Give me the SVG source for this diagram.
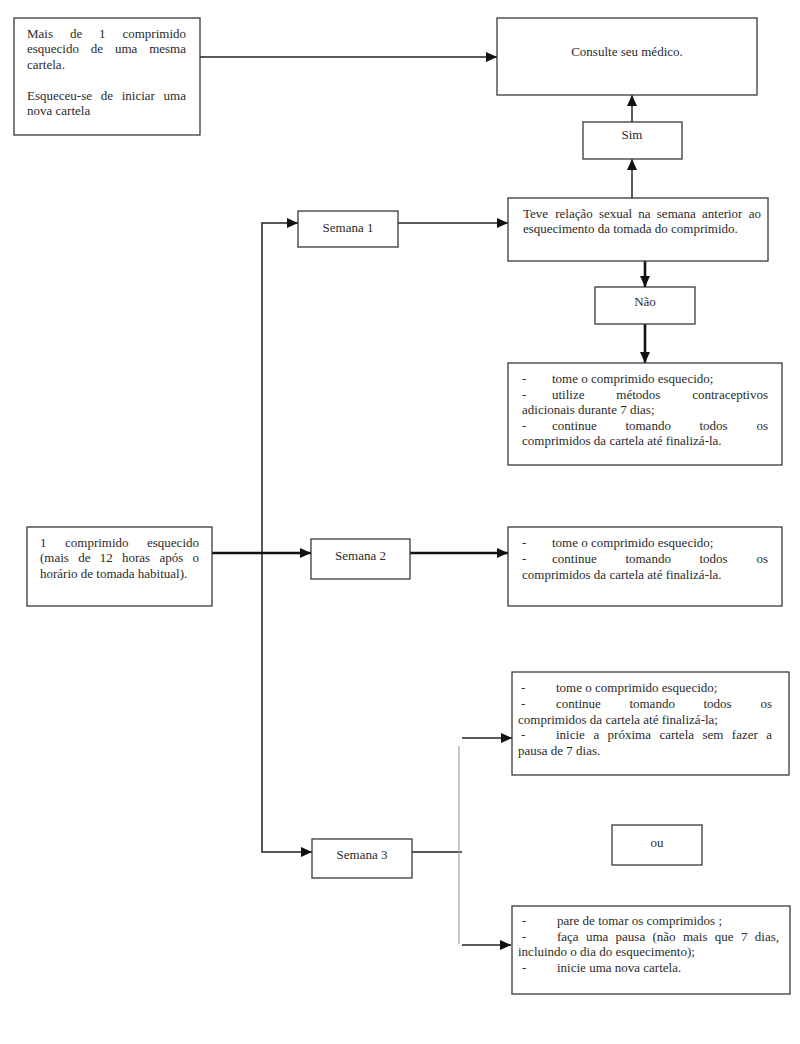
<svg xmlns="http://www.w3.org/2000/svg" width="800" height="1044" viewBox="0 0 800 1044">
<style>
  .box{fill:#fff;stroke:#3a3a3a;stroke-width:1.3}
  text{font-family:"Liberation Serif","Times New Roman",serif;font-size:13px;fill:#2a2a2a}
  .c{text-anchor:middle}
  .e{text-anchor:end}
  .ln{fill:none;stroke:#222;stroke-width:1.5}
  .th{fill:none;stroke:#111;stroke-width:2.6}
  .lt{fill:none;stroke:#9a9a9a;stroke-width:1.1}
</style>
<defs>
  <marker id="ah" markerUnits="userSpaceOnUse" markerWidth="12" markerHeight="10" refX="11" refY="5" orient="auto">
    <path d="M0,0 L11,5 L0,10 Z" fill="#111"/>
  </marker>
</defs>
<rect width="800" height="1044" fill="#fff"/>

<g id="connectors">
  <path class="ln" d="M200,57 H497" marker-end="url(#ah)"/>
  <path class="ln" d="M632,122 V95" marker-end="url(#ah)"/>
  <path class="ln" d="M632,198 V159" marker-end="url(#ah)"/>
  <path class="ln" d="M398,223 H508" marker-end="url(#ah)"/>
  <path class="th" d="M645,261 V287" marker-end="url(#ah)"/>
  <path class="th" d="M645,324 V363" marker-end="url(#ah)"/>
  <path class="ln" d="M262,540 V223 H298" marker-end="url(#ah)"/>
  <path class="ln" d="M262,540 V852 H312" marker-end="url(#ah)"/>
  <path class="th" d="M212,553 H311" marker-end="url(#ah)"/>
  <path class="th" d="M410,553 H508" marker-end="url(#ah)"/>
  <path class="ln" d="M412,852 H462"/>
  <path class="lt" d="M459,746 V944"/>
  <path class="ln" d="M462,738 H512" marker-end="url(#ah)"/>
  <path class="ln" d="M462,945 H511" marker-end="url(#ah)"/>
</g>

<g id="node-mais">
  <rect class="box" x="14" y="18" width="186" height="117"/>
  <text x="27" y="38">Mais</text><text x="69.9" y="38">de</text><text x="99.1" y="38">1</text><text class="e" x="186" y="38">comprimido</text>
  <text x="27" y="53">esquecido</text><text x="90.8" y="53">de</text><text x="114.9" y="53">uma</text><text class="e" x="186" y="53">mesma</text>
  <text x="27" y="69">cartela.</text>
  <text x="27" y="100">Esqueceu-se</text><text x="100.7" y="100">de</text><text x="121.7" y="100">iniciar</text><text class="e" x="186" y="100">uma</text>
  <text x="27" y="115">nova cartela</text>
</g>

<g id="node-consulte">
  <rect class="box" x="497" y="18" width="260" height="77"/>
  <text class="c" x="627" y="56">Consulte seu médico.</text>
</g>

<g id="node-sim">
  <rect class="box" x="583" y="122" width="99" height="37"/>
  <text class="c" x="632" y="139">Sim</text>
</g>

<g id="node-semana1">
  <rect class="box" x="298" y="211" width="100" height="36"/>
  <text class="c" x="348" y="232">Semana 1</text>
</g>

<g id="node-teve">
  <rect class="box" x="508" y="198" width="260" height="63"/>
  <text x="523" y="218">Teve</text><text x="555.2" y="218">relação</text><text x="598.9" y="218">sexual</text><text x="638.3" y="218">na</text><text x="656.8" y="218">semana</text><text x="702" y="218">anterior</text><text class="e" x="761" y="218">ao</text>
  <text x="523" y="233">esquecimento da tomada do comprimido.</text>
</g>

<g id="node-nao">
  <rect class="box" x="595" y="287" width="100" height="37"/>
  <text class="c" x="645" y="306">Não</text>
</g>

<g id="node-semana1-acoes">
  <rect class="box" x="508" y="363" width="274" height="102"/>
  <text x="522" y="383">-</text><text x="552" y="383">tome o comprimido esquecido;</text>
  <text x="522" y="399">-</text><text x="552" y="399">utilize</text><text x="616.3" y="399">métodos</text><text class="e" x="768" y="399">contraceptivos</text>
  <text x="522" y="414">adicionais durante 7 dias;</text>
  <text x="522" y="430">-</text><text x="552" y="430">continue</text><text x="625.4" y="430">tomando</text><text x="699.5" y="430">todos</text><text class="e" x="768" y="430">os</text>
  <text x="522" y="445">comprimidos da cartela até finalizá-la.</text>
</g>

<g id="node-esquecido">
  <rect class="box" x="27" y="527" width="185" height="79"/>
  <text x="40" y="547">1</text><text x="65" y="547">comprimido</text><text class="e" x="199" y="547">esquecido</text>
  <text x="40" y="562">(mais</text><text x="78.2" y="562">de</text><text x="99.7" y="562">12</text><text x="122" y="562">horas</text><text x="159.5" y="562">após</text><text class="e" x="199" y="562">o</text>
  <text x="40" y="578">horário de tomada habitual).</text>
</g>

<g id="node-semana2">
  <rect class="box" x="311" y="539" width="99" height="40"/>
  <text class="c" x="360.5" y="560">Semana 2</text>
</g>

<g id="node-semana2-acoes">
  <rect class="box" x="508" y="527" width="274" height="79"/>
  <text x="522" y="547">-</text><text x="552" y="547">tome o comprimido esquecido;</text>
  <text x="522" y="563">-</text><text x="552" y="563">continue</text><text x="625.4" y="563">tomando</text><text x="699.5" y="563">todos</text><text class="e" x="768" y="563">os</text>
  <text x="522" y="579">comprimidos da cartela até finalizá-la.</text>
</g>

<g id="node-semana3-opcao1">
  <rect class="box" x="512" y="672" width="277" height="103"/>
  <text x="521" y="692">-</text><text x="556" y="692">tome o comprimido esquecido;</text>
  <text x="521" y="708">-</text><text x="556" y="708">continue</text><text x="629.4" y="708">tomando</text><text x="703.5" y="708">todos</text><text class="e" x="772" y="708">os</text>
  <text x="518" y="724">comprimidos da cartela até finalizá-la;</text>
  <text x="521" y="739">-</text><text x="556" y="739">inicie</text><text x="593.4" y="739">a</text><text x="607.6" y="739">próxima</text><text x="659.4" y="739">cartela</text><text x="702.4" y="739">sem</text><text x="731.8" y="739">fazer</text><text class="e" x="772" y="739">a</text>
  <text x="518" y="755">pausa de 7 dias.</text>
</g>

<g id="node-semana3">
  <rect class="box" x="312" y="839" width="100" height="39"/>
  <text class="c" x="362" y="859">Semana 3</text>
</g>

<g id="node-ou">
  <rect class="box" x="612" y="825" width="90" height="40"/>
  <text class="c" x="657" y="847">ou</text>
</g>

<g id="node-semana3-opcao2">
  <rect class="box" x="512" y="906" width="278" height="88"/>
  <text x="522" y="925">-</text><text x="557" y="925">pare de tomar os comprimidos ;</text>
  <text x="522" y="941">-</text><text x="557" y="941">faça</text><text x="585.9" y="941">uma</text><text x="615.6" y="941">pausa</text><text x="652.5" y="941">(não</text><text x="682.9" y="941">mais</text><text x="714.8" y="941">que</text><text x="740.9" y="941">7</text><text class="e" x="779" y="941">dias,</text>
  <text x="518" y="956">incluindo o dia do esquecimento);</text>
  <text x="522" y="972">-</text><text x="557" y="972">inicie uma nova cartela.</text>
</g>
</svg>
